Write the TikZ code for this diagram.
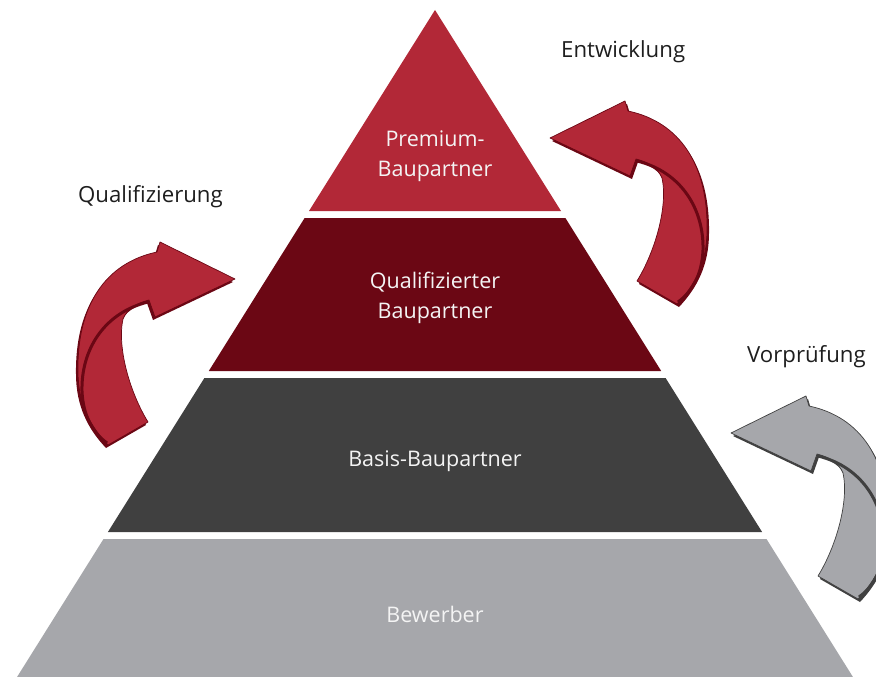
\documentclass[tikz,border=0pt]{standalone}
\usepackage{fontspec}
\setmainfont{Open Sans}

\definecolor{premiumred}{HTML}{B22837}
\definecolor{qualired}{HTML}{6B0714}
\definecolor{basisgray}{HTML}{404040}
\definecolor{bewerbergray}{HTML}{A6A7AB}
\definecolor{labelgray}{HTML}{1E1E1E}
\definecolor{leveltext}{HTML}{F4F4F4}

\tikzset{
  lvltext/.style={text=leveltext, font=\fontsize{21.5}{30}\selectfont, align=center, inner sep=0pt},
  sidelabel/.style={text=labelgray, font=\fontsize{22.2}{30}\selectfont, inner sep=0pt, anchor=base west},
}

% outline of the bent 3D arrow (pointing left, tail at the bottom)
\newcommand\bentshape[1]{%
  \path[#1] (550,138) -- (625,101) -- (628,111)
    .. controls (680,122) and (708,165) .. (707,230)
    .. controls (707,262) and (695,285) .. (677,304)
    -- (637,281)
    .. controls (656,250) and (668,205) .. (662,178)
    .. controls (658,168) and (648,162) .. (636,159)
    -- (630,176) -- cycle;}

% #1 face colour, #2 edge colour, #3 placement
\newcommand\bentarrow[3]{%
  \begin{scope}[#3]
    \begin{scope}[shift={(2,3)}]
      \bentshape{fill=#2}
    \end{scope}
    \bentshape{fill=#1, draw=#2, line width=0.7pt, line join=round}
    \draw[#2, line width=3pt]
      (637,161) .. controls (682,172) and (704,210) .. (703,250)
      .. controls (702,275) and (692,292) .. (678,302);
  \end{scope}}

\begin{document}
\begin{tikzpicture}[x=1pt, y=-1pt]
  \useasboundingbox (0,0) rectangle (876,677);
  \clip (0,0) rectangle (876,677);

  % pyramid levels
  \fill[premiumred]   (435,10) -- (561,211) -- (309,211) -- cycle;
  \fill[qualired]     (304.6,218) -- (565.4,218) -- (661.2,371) -- (208.8,371) -- cycle;
  \fill[basisgray]    (204.4,378) -- (665.6,378) -- (762.1,532) -- (107.9,532) -- cycle;
  \fill[bewerbergray] (103.5,539) -- (766.5,539) -- (861.1,690) -- (8.9,690) -- cycle;

  % level captions
  \node[lvltext] (premium) at (435,156.5) {Premium-\\Baupartner};
  \node[lvltext] (quali) at (435,297.5) {Qualifizierter\\Baupartner};
  \node[lvltext, anchor=base] (basis) at (435,466) {Basis-Baupartner};
  \node[lvltext, anchor=base] (bewerber) at (435,622) {Bewerber};

  % bent arrows between the levels
  \bentarrow{premiumred}{qualired}{}
  \bentarrow{premiumred}{qualired}{shift={(785,141)}, xscale=-1}
  \bentarrow{bewerbergray}{basisgray}{shift={(181,295)}}

  % arrow labels
  \node[sidelabel] (entw) at (561,58) {Entwicklung};
  \node[sidelabel] (qualif) at (78,202) {Qualifizierung};
  \node[sidelabel] (vorpr) at (747,362) {Vorprüfung};
\end{tikzpicture}
\end{document}
